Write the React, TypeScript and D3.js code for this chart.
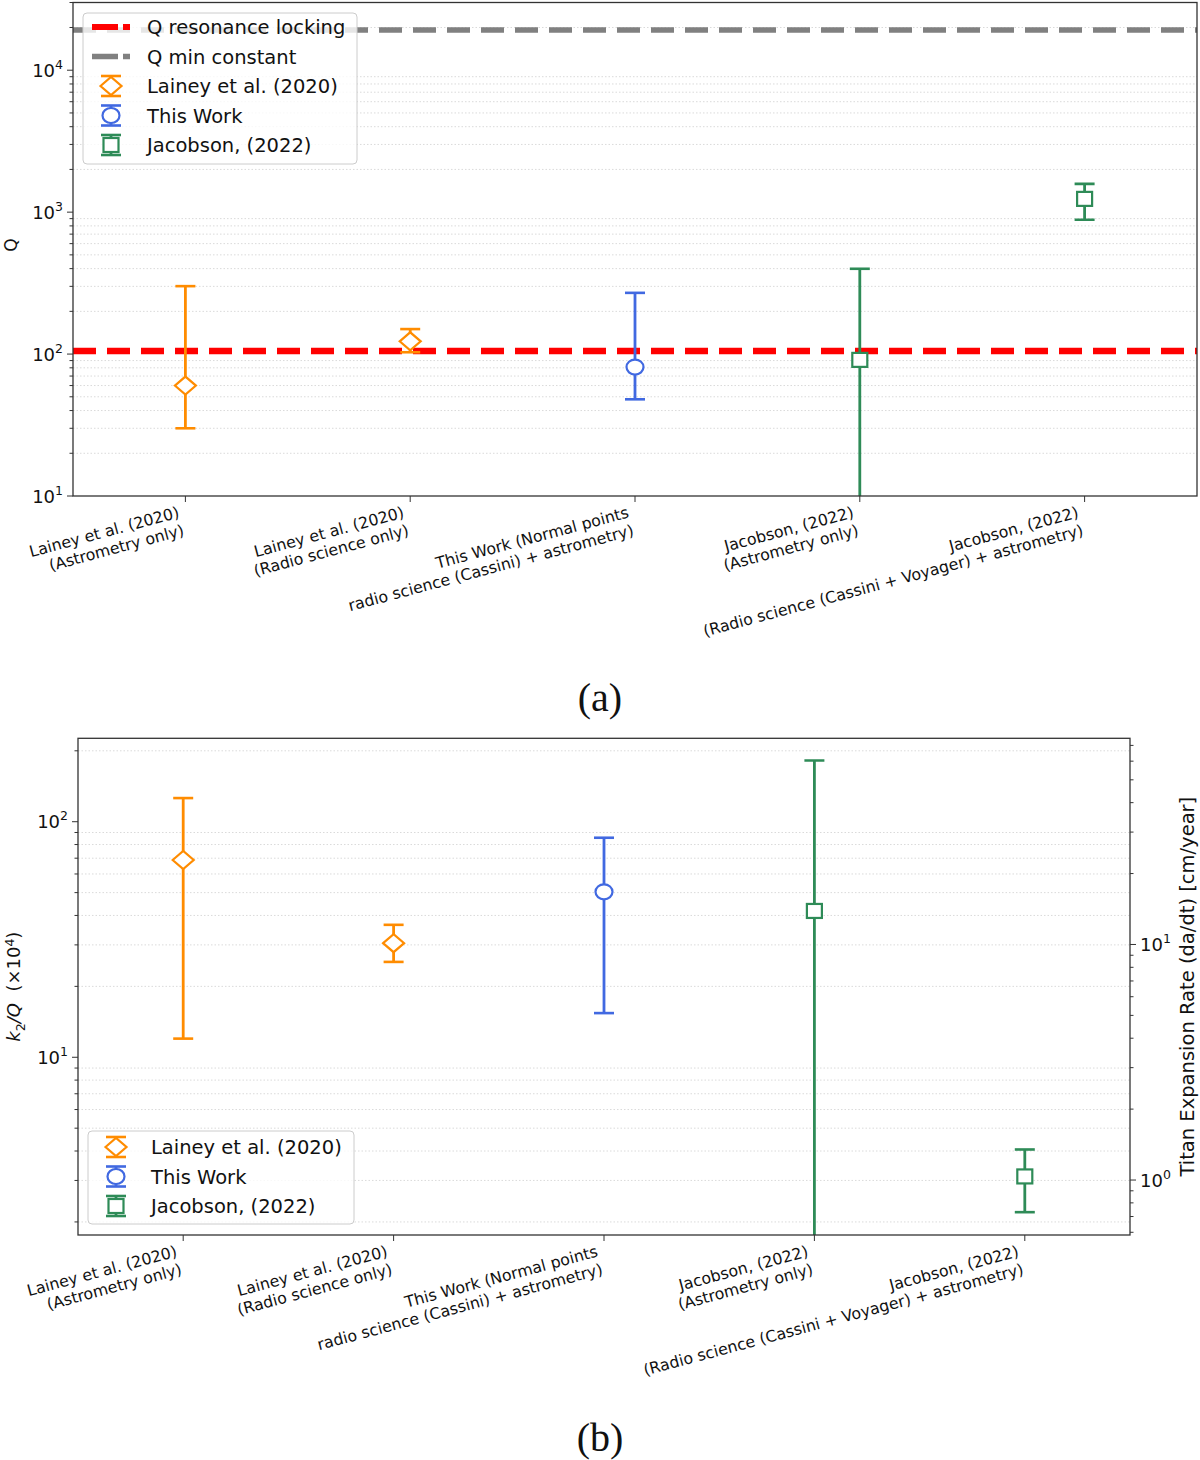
import React from "react";
import * as d3 from "d3";

// categories shared by both panels (two-line tick labels)
const categories: string[][] = [
  ["Lainey et al. (2020)", "(Astrometry only)"],
  ["Lainey et al. (2020)", "(Radio science only)"],
  ["This Work (Normal points", "radio science (Cassini) + astrometry)"],
  ["Jacobson, (2022)", "(Astrometry only)"],
  ["Jacobson, (2022)", "(Radio science (Cassini + Voyager) + astrometry)"],
];
const categorySource = ["lainey", "lainey", "thisWork", "jacobson", "jacobson"];

// panel (a): tidal quality factor Q
const qValue = [60, 123, 81, 91, 1240];
const qLower = [30, 103, 48, 1, 883];
const qUpper = [301, 150, 270, 399, 1582];
const qResonanceLocking = 105;
const qMinConstant = 19200;
const qDomain = [10, 30000];
const qMajorTicks = [10, 100, 1000, 10000];

// panel (b): k2/Q (x 1e4) and the matching Titan expansion rate
const k2qValue = [68.8, 30.5, 50.4, 41.8, 3.12];
const k2qLower = [12, 25.4, 15.4, 0.5, 2.2];
const k2qUpper = [126, 36.5, 85.5, 182, 4.06];
const k2qDomain = [1.76, 226];
const k2qMajorTicks = [10, 100];
const rateFactor = 0.332; // cm/year per unit of k2/Q (x 1e4)
const rateMajorTicks = [1, 10];

const sources = ["lainey", "thisWork", "jacobson"];
const sourceLabels = ["Lainey et al. (2020)", "This Work", "Jacobson, (2022)"];
const sourceColors: Record<string, string> = {
  lainey: "#ff8c00",
  thisWork: "#4169e1",
  jacobson: "#2e8b57",
};
const sourceMarkers: Record<string, string> = {
  lainey: "diamond",
  thisWork: "circle",
  jacobson: "square",
};

const FONT = "DejaVu Sans, Verdana, sans-serif";
const DEG = Math.PI / 180;

function logTicks(domain: number[]) {
  const out: { v: number; major: boolean }[] = [];
  const k0 = Math.floor(Math.log10(domain[0]));
  const k1 = Math.ceil(Math.log10(domain[1]));
  for (let k = k0; k <= k1; k++) {
    for (let m = 1; m <= 9; m++) {
      const v = m * Math.pow(10, k);
      if (v >= domain[0] * 0.9999 && v <= domain[1] * 1.0001) out.push({ v, major: m === 1 });
    }
  }
  return out;
}

function Marker({ kind, x, y, color }: { kind: string; x: number; y: number; color: string }) {
  const common = { fill: "white", stroke: color, strokeWidth: 2.2 };
  if (kind === "diamond")
    return <path d={`M${x - 10.5},${y} L${x},${y - 9} L${x + 10.5},${y} L${x},${y + 9} Z`} {...common} />;
  if (kind === "circle") return <ellipse cx={x} cy={y} rx={8.5} ry={7.5} {...common} />;
  return <rect x={x - 7.5} y={y - 7} width={15} height={14} {...common} />;
}

function ErrorBar({ x, y0, y1, yc, color, kind, cap = 10 }: any) {
  return (
    <g>
      <line x1={x} x2={x} y1={y0} y2={y1} stroke={color} strokeWidth={2.8} />
      <line x1={x - cap} x2={x + cap} y1={y0} y2={y0} stroke={color} strokeWidth={2.6} />
      <line x1={x - cap} x2={x + cap} y1={y1} y2={y1} stroke={color} strokeWidth={2.6} />
      <Marker kind={kind} x={x} y={yc} color={color} />
    </g>
  );
}

function Pow10({ x, y, exp, anchor }: { x: number; y: number; exp: number; anchor: string }) {
  return (
    <text x={x} y={y + 6.5} textAnchor={anchor} fontFamily={FONT} fontSize={18} fill="#111">
      10
      <tspan dy={-8} fontSize={12.5}>
        {exp}
      </tspan>
    </text>
  );
}

function XLabel({ x, y, lines }: { x: number; y: number; lines: string[] }) {
  const fs = 15.8;
  const lh = 18.5;
  const dx = -(lh + fs * 0.9) * Math.sin(15 * DEG);
  return (
    <g transform={`translate(${x + dx},${y}) rotate(-15)`}>
      {lines.map((l, i) => (
        <text key={i} x={0} y={fs * 0.8 + i * lh} textAnchor="end" fontFamily={FONT} fontSize={fs} fill="#111">
          {l}
        </text>
      ))}
    </g>
  );
}

function LegendErrorHandle({ x, y, src }: { x: number; y: number; src: string }) {
  return (
    <ErrorBar x={x} y0={y + 10} y1={y - 10} yc={y} color={sourceColors[src]} kind={sourceMarkers[src]} cap={10} />
  );
}

function TopPanel() {
  const left = 73, right = 1197, top = 2.5, bottom = 496;
  const x = d3.scalePoint<number>().domain(d3.range(categories.length)).range([left, right]).padding(0.5);
  const y = d3.scaleLog().domain(qDomain).range([bottom, top]);
  const ticks = logTicks(qDomain);
  const rows = d3.range(5).map((i) => 27 + i * 29.5);
  return (
    <g>
      <defs>
        <clipPath id="clipA">
          <rect x={left} y={top} width={right - left} height={bottom - top} />
        </clipPath>
      </defs>
      {ticks
        .filter((t) => !t.major)
        .map((t) => (
          <line key={t.v} x1={left} x2={right} y1={y(t.v)} y2={y(t.v)} stroke="#dadada" strokeWidth={1} strokeDasharray="1.5,2" />
        ))}
      <line x1={left} x2={right} y1={y(qMinConstant)} y2={y(qMinConstant)} stroke="#808080" strokeWidth={5.5} strokeDasharray="23,11" />
      <line x1={left} x2={right} y1={y(qResonanceLocking)} y2={y(qResonanceLocking)} stroke="red" strokeWidth={6.5} strokeDasharray="23,11" />
      <g clipPath="url(#clipA)">
        {categories.map((_, i) => {
          const src = categorySource[i];
          return (
            <ErrorBar key={i} x={x(i)} y0={y(qLower[i])} y1={y(qUpper[i])} yc={y(qValue[i])} color={sourceColors[src]} kind={sourceMarkers[src]} />
          );
        })}
      </g>
      <rect x={left} y={top} width={right - left} height={bottom - top} fill="none" stroke="#333" strokeWidth={1.3} />
      {ticks.map((t) => (
        <line key={t.v} x1={left} x2={left - (t.major ? 6 : 3.5)} y1={y(t.v)} y2={y(t.v)} stroke="#333" strokeWidth={1} />
      ))}
      {qMajorTicks.map((v) => (
        <Pow10 key={v} x={left - 10} y={y(v)} exp={Math.round(Math.log10(v))} anchor="end" />
      ))}
      {categories.map((c, i) => (
        <g key={i}>
          <line x1={x(i)} x2={x(i)} y1={bottom} y2={bottom + 6} stroke="#333" strokeWidth={1} />
          <XLabel x={x(i)!} y={bottom + 9} lines={c} />
        </g>
      ))}
      <text transform={`translate(17,${245}) rotate(-90)`} textAnchor="middle" fontFamily={FONT} fontSize={17} fill="#111">
        Q
      </text>
      {/* legend */}
      <rect x={83} y={13} width={274} height={151} rx={4} fill="white" fillOpacity={0.8} stroke="#cccccc" strokeWidth={1} />
      <line x1={92} x2={130} y1={rows[0]} y2={rows[0]} stroke="red" strokeWidth={6} strokeDasharray="26,5" />
      <line x1={92} x2={130} y1={rows[1]} y2={rows[1]} stroke="#808080" strokeWidth={5.5} strokeDasharray="26,5" />
      {sources.map((s, i) => (
        <LegendErrorHandle key={s} x={111} y={rows[i + 2]} src={s} />
      ))}
      {["Q resonance locking", "Q min constant", ...sourceLabels].map((l, i) => (
        <text key={l} x={147} y={rows[i] + 7} fontFamily={FONT} fontSize={19.5} fill="#111">
          {l}
        </text>
      ))}
    </g>
  );
}

function BottomPanel() {
  const left = 78, right = 1130, top = 738.3, bottom = 1235;
  const x = d3.scalePoint<number>().domain(d3.range(categories.length)).range([left, right]).padding(0.5);
  const y = d3.scaleLog().domain(k2qDomain).range([bottom, top]);
  const rateDomain = k2qDomain.map((v) => v * rateFactor);
  const yRate = d3.scaleLog().domain(rateDomain).range([bottom, top]);
  const ticks = logTicks(k2qDomain);
  const rateTicks = logTicks(rateDomain);
  const rows = d3.range(3).map((i) => 1147 + i * 29.5);
  return (
    <g>
      <defs>
        <clipPath id="clipB">
          <rect x={left} y={top} width={right - left} height={bottom - top} />
        </clipPath>
      </defs>
      {ticks
        .filter((t) => !t.major)
        .map((t) => (
          <line key={t.v} x1={left} x2={right} y1={y(t.v)} y2={y(t.v)} stroke="#dadada" strokeWidth={1} strokeDasharray="1.5,2" />
        ))}
      <g clipPath="url(#clipB)">
        {categories.map((_, i) => {
          const src = categorySource[i];
          return (
            <ErrorBar key={i} x={x(i)} y0={y(k2qLower[i])} y1={y(k2qUpper[i])} yc={y(k2qValue[i])} color={sourceColors[src]} kind={sourceMarkers[src]} />
          );
        })}
      </g>
      <rect x={left} y={top} width={right - left} height={bottom - top} fill="none" stroke="#333" strokeWidth={1.3} />
      {ticks.map((t) => (
        <line key={t.v} x1={left} x2={left - (t.major ? 6 : 3.5)} y1={y(t.v)} y2={y(t.v)} stroke="#333" strokeWidth={1} />
      ))}
      {k2qMajorTicks.map((v) => (
        <Pow10 key={v} x={left - 10} y={y(v)} exp={Math.round(Math.log10(v))} anchor="end" />
      ))}
      {rateTicks.map((t) => (
        <line key={t.v} x1={right} x2={right + (t.major ? 6 : 3.5)} y1={yRate(t.v)} y2={yRate(t.v)} stroke="#333" strokeWidth={1} />
      ))}
      {rateMajorTicks.map((v) => (
        <Pow10 key={v} x={right + 10} y={yRate(v)} exp={Math.round(Math.log10(v))} anchor="start" />
      ))}
      {categories.map((c, i) => (
        <g key={i}>
          <line x1={x(i)} x2={x(i)} y1={bottom} y2={bottom + 6} stroke="#333" strokeWidth={1} />
          <XLabel x={x(i)!} y={bottom + 9} lines={c} />
        </g>
      ))}
      <text
        transform={`translate(20,${(top + bottom) / 2}) rotate(-90)`}
        textAnchor="middle"
        fontFamily={FONT}
        fontSize={18}
        fill="#111"
        style={{ whiteSpace: "pre" }}
      >
        <tspan fontStyle="italic">k</tspan>
        <tspan dy={4.5} fontSize={12.5}>2</tspan>
        <tspan dy={-4.5} fontStyle="italic">/Q</tspan>
        <tspan>{"  (×10"}</tspan>
        <tspan dy={-6.5} fontSize={12.5}>4</tspan>
        <tspan dy={6.5}>)</tspan>
      </text>
      <text
        transform={`translate(1194,${(top + bottom) / 2}) rotate(-90)`}
        textAnchor="middle"
        fontFamily={FONT}
        fontSize={19.5}
        fill="#111"
      >
        Titan Expansion Rate (da/dt) [cm/year]
      </text>
      {/* legend */}
      <rect x={88} y={1131} width={266} height={93} rx={4} fill="white" fillOpacity={0.8} stroke="#cccccc" strokeWidth={1} />
      {sources.map((s, i) => (
        <LegendErrorHandle key={s} x={116} y={rows[i]} src={s} />
      ))}
      {sourceLabels.map((l, i) => (
        <text key={l} x={151} y={rows[i] + 7} fontFamily={FONT} fontSize={19.5} fill="#111">
          {l}
        </text>
      ))}
    </g>
  );
}

export default function App() {
  return (
    <svg
      width={1200}
      height={1460}
      viewBox="0 0 1200 1460"
      style={{ position: "absolute", left: 0, top: 0, background: "white" }}
    >
      <rect width={1200} height={1460} fill="white" />
      <TopPanel />
      <text x={600} y={711} textAnchor="middle" fontFamily="Liberation Serif, Times New Roman, serif" fontSize={40} fill="#111">
        (a)
      </text>
      <BottomPanel />
      <text x={600} y={1451} textAnchor="middle" fontFamily="Liberation Serif, Times New Roman, serif" fontSize={40} fill="#111">
        (b)
      </text>
    </svg>
  );
}
